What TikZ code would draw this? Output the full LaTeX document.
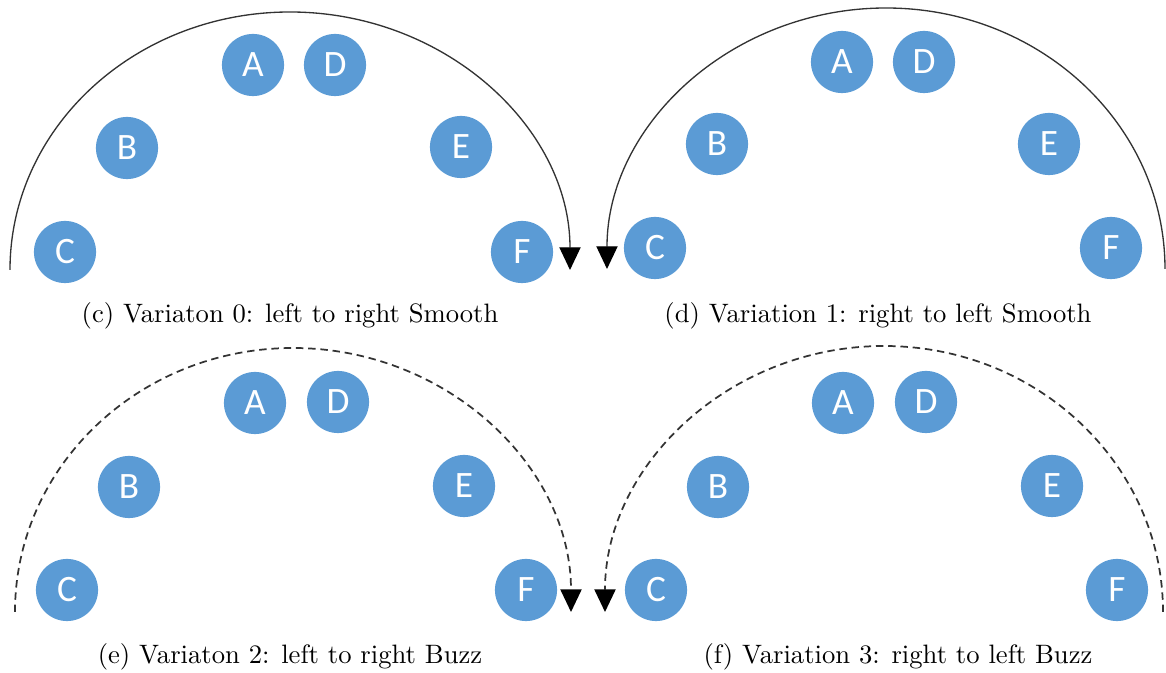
\documentclass[tikz,border=0pt]{standalone}
\usepackage{fontspec}
\usetikzlibrary{arrows.meta,positioning}
\newfontfamily\carlito{Carlito}
\definecolor{stationblue}{HTML}{5B9BD5}
\tikzset{
  station/.style={circle, fill=stationblue, text=white, minimum size=0.82cm, inner sep=0pt, font=\carlito\fontsize{14}{14}\selectfont},
  route/.style={draw=black!80, line width=0.5pt, -{Triangle[length=0.3cm, width=0.28cm, color=black]}},
  buzz/.style={route, line width=0.65pt, dash pattern=on 2.8pt off 1.8pt},
  caption/.style={font=\normalsize}
}

\begin{document}
\begin{tikzpicture}[x=0.0132cm, y=0.0132cm]
\useasboundingbox (0,0) rectangle (1166,673);
% (c) left to right, smooth
\begin{scope}
\node[station] (cA) at (253,608) {A};
\node[station] (cD) at (335,608) {D};
\node[station] (cB) at (127,525) {B};
\node[station] (cE) at (461,526) {E};
\node[station] (cC) at (65,421) {C};
\node[station] (cF) at (522,421) {F};
\coordinate (c-start) at (10,403);
\draw[route] (c-start) arc[start angle=180, end angle=0, x radius=280, y radius=258];
\node[caption] (c-cap) at (290,357) {(c) Variaton 0: left to right Smooth};
\end{scope}
% (d) right to left, smooth
\begin{scope}
\node[station] (dA) at (842,611) {A};
\node[station] (dD) at (924,611) {D};
\node[station] (dB) at (717,529) {B};
\node[station] (dE) at (1049,529) {E};
\node[station] (dC) at (655,425) {C};
\node[station] (dF) at (1111,425) {F};
\coordinate (d-start) at (1165,404);
\draw[route] (d-start) arc[start angle=0, end angle=180, x radius=279, y radius=261];
\node[caption] (d-cap) at (878,357) {(d) Variation 1: right to left Smooth};
\end{scope}
% (e) left to right, buzz
\begin{scope}
\node[station] (eA) at (255,270) {A};
\node[station] (eD) at (338,271) {D};
\node[station] (eB) at (129,186) {B};
\node[station] (eE) at (464,187) {E};
\node[station] (eC) at (67,83) {C};
\node[station] (eF) at (526,83) {F};
\coordinate (e-start) at (15,61);
\draw[buzz] (e-start) arc[start angle=180, end angle=0, x radius=278, y radius=264];
\node[caption] (e-cap) at (290,16) {(e) Variaton 2: left to right Buzz};
\end{scope}
% (f) right to left, buzz
\begin{scope}
\node[station] (fA) at (843,270) {A};
\node[station] (fD) at (926,271) {D};
\node[station] (fB) at (718,186) {B};
\node[station] (fE) at (1052,187) {E};
\node[station] (fC) at (656,83) {C};
\node[station] (fF) at (1117,83) {F};
\coordinate (f-start) at (1163,61);
\draw[buzz] (f-start) arc[start angle=0, end angle=180, x radius=279, y radius=266];
\node[caption] (f-cap) at (898,16) {(f) Variation 3: right to left Buzz};
\end{scope}
\end{tikzpicture}
\end{document}
